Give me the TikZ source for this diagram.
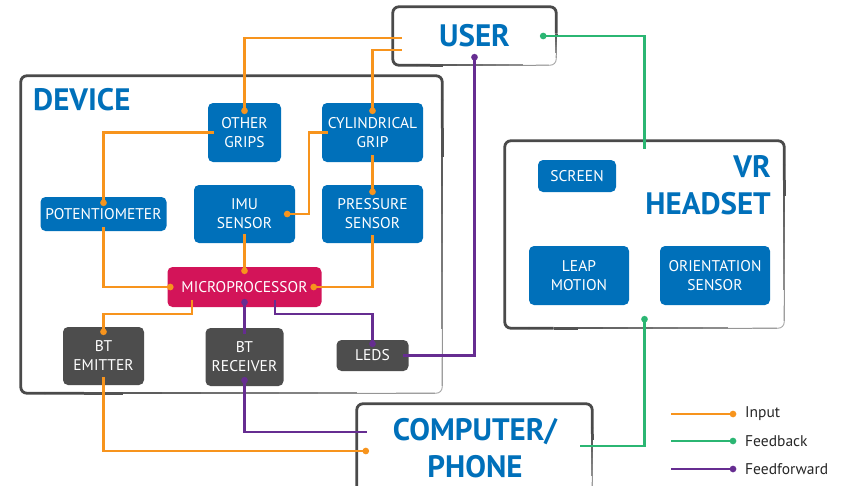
\documentclass[tikz,border=0pt]{standalone}
\usepackage{fontspec}
\setmainfont{PT Sans}
\usetikzlibrary{arrows.meta,calc}
\definecolor{boxblue}{HTML}{0070BA}
\definecolor{boxgray}{HTML}{4D4D4D}
\definecolor{framegray}{HTML}{4A4A4A}
\definecolor{framelight}{HTML}{A8A8A8}
\definecolor{chipred}{HTML}{D31459}
\definecolor{wireorange}{HTML}{F7941D}
\definecolor{wiregreen}{HTML}{2BB673}
\definecolor{wirepurple}{HTML}{662D91}

% hand-brushed outline: heavy on the top and left, thinning and fading
% along the right and bottom edges
\newcommand{\brushframe}[1]{%
  \draw[framelight, line width=0.9pt, rounded corners=6pt]
    (#1.south west) rectangle (#1.north east);
  \draw[framegray, line width=2.8pt, rounded corners=6pt, line cap=round]
    ([xshift=24pt]#1.south west) -- (#1.south west) -- (#1.north west)
    -- (#1.north east) -- ([yshift=-24pt]#1.north east);
  \foreach \i in {0,...,9} {
    \pgfmathsetmacro\sa{\i/10}
    \pgfmathsetmacro\sb{(\i+1)/10}
    \pgfmathsetmacro\lw{2.8-0.19*\i}
    \pgfmathtruncatemacro\mix{100-10*\i}
    \draw[line width=\lw pt, draw=framegray!\mix!framelight]
      ($([yshift=-24pt]#1.north east)!\sa!([yshift=7pt]#1.south east)$) --
      ($([yshift=-24pt]#1.north east)!\sb!([yshift=7pt]#1.south east)$);
    \draw[line width=\lw pt, draw=framegray!\mix!framelight]
      ($([xshift=24pt]#1.south west)!\sa!([xshift=-7pt]#1.south east)$) --
      ($([xshift=24pt]#1.south west)!\sb!([xshift=-7pt]#1.south east)$);
  }%
}

\begin{document}
\begin{tikzpicture}[x=1pt,y=-1pt,
  frame/.style={fill=white, rounded corners=6pt, inner sep=0pt},
  blk/.style={rounded corners=5pt, inner sep=0pt, text=white, align=center,
    font=\fontsize{15.5}{19}\selectfont},
  bluebox/.style={blk, fill=boxblue},
  greybox/.style={blk, fill=boxgray},
  chipbox/.style={blk, fill=chipred},
  title/.style={text=boxblue, inner sep=0pt, font=\bfseries\fontsize{31}{37.5}\selectfont},
  legendtext/.style={inner sep=0pt, anchor=west, text=black!85, font=\fontsize{15.5}{19}\selectfont},
  wire/.style={line width=2.4pt},
  inp/.style={wire, draw=wireorange},
  fbk/.style={wire, draw=wiregreen},
  ffw/.style={wire, draw=wirepurple},
  dotend/.style={-{Circle[length=6.5pt]}, shorten >=-3.25pt},
  dotstart/.style={{Circle[length=6.5pt]}-, shorten <=-3.25pt}
]
\useasboundingbox (0,0) rectangle (845,485);

% outer frames
\node[frame, minimum width=421pt, minimum height=317pt] (device) at (231.5,234.5) {};
\node[frame, minimum width=163pt, minimum height=58pt] (user) at (474.5,36) {};
\node[frame, minimum width=279pt, minimum height=187pt] (vr) at (644.5,234.5) {};
\node[frame, minimum width=235pt, minimum height=91pt] (comp) at (474.5,449.5) {};
\brushframe{device}
\brushframe{user}
\brushframe{vr}
\brushframe{comp}

% frame titles
\node[title, anchor=center] (usert) at (user.center) {USER};
\node[title, anchor=west] (devt) at (33,100) {DEVICE};
\node[title, anchor=east, align=right] (vrt) at (771,185) {VR\\HEADSET};
\node[title, anchor=center, align=center] (compt) at (475,448) {COMPUTER/\\PHONE};

% device blocks
\node[bluebox, minimum width=73pt, minimum height=59pt] (og) at (244.5,132.5) {OTHER\\GRIPS};
\node[bluebox, minimum width=101pt, minimum height=59pt] (cyl) at (372.5,132.5) {CYLINDRICAL\\GRIP};
\node[bluebox, minimum width=126pt, minimum height=34pt] (pot) at (103.5,214) {POTENTIOMETER};
\node[bluebox, minimum width=101pt, minimum height=58pt] (imu) at (244.5,214) {IMU\\SENSOR};
\node[bluebox, minimum width=101pt, minimum height=58pt] (pres) at (372.5,214) {PRESSURE\\SENSOR};
\node[chipbox, minimum width=154pt, minimum height=40pt] (mp) at (244.5,287) {MICROPROCESSOR};
\node[greybox, minimum width=81pt, minimum height=58pt] (bte) at (103.5,356) {BT\\EMITTER};
\node[greybox, minimum width=78pt, minimum height=58pt] (btr) at (244.5,357) {BT\\RECEIVER};
\node[greybox, minimum width=72pt, minimum height=31pt] (leds) at (372.5,355.5) {LEDS};

% headset blocks
\node[bluebox, minimum width=78pt, minimum height=32pt] (screen) at (577,176) {SCREEN};
\node[bluebox, minimum width=100pt, minimum height=59pt] (leap) at (579,275.5) {LEAP\\MOTION};
\node[bluebox, minimum width=110pt, minimum height=59pt] (orient) at (715,275.5) {ORIENTATION\\SENSOR};

% input wires
\draw[inp, dotend] ([shift={(9,2)}]user.west) -| ([yshift=-8pt]og.north);
\draw[inp, dotend] ([shift={(9,14)}]user.west) -| ([yshift=-8pt]cyl.north);
\draw[inp, dotend] ([xshift=6pt]og.west) -| ([yshift=-6pt]pot.north);
\draw[inp, dotend] ([xshift=6pt]cyl.west) -- ++(-19,0) |- ([xshift=-8pt]imu.east);
\draw[inp, dotend] ([yshift=7pt]cyl.south) -- ([yshift=-7pt]pres.north);
\draw[inp, dotend] ([yshift=9pt]imu.south) -- ([yshift=-4pt]mp.north);
\draw[inp, dotend] ([yshift=4pt]pot.south) |- ([xshift=3pt]mp.west);
\draw[inp, dotend] ([yshift=8pt]pres.south) |- ([xshift=-8pt]mp.east);
\draw[inp, dotend] ([shift={(-52.5,13)}]mp.center) -- ++(0,14) -| ([yshift=-5pt]bte.north);
\draw[inp, dotend] ([yshift=8pt]bte.south) |- ([shift={(9,1.5)}]comp.west);

% feedforward wires
\draw[ffw, dotstart] ([yshift=5pt]mp.south) -- ([yshift=-6pt]btr.north);
\draw[ffw, dotend] ([shift={(30.5,13)}]mp.center) -- ++(0,14) -| ([yshift=-4pt]leds.north);
\draw[ffw, dotend] ([xshift=-6pt]leds.east) -| ([yshift=8pt]user.south);
\draw[ffw, dotstart] ([yshift=6pt]btr.south) |- ([shift={(10,-17.5)}]comp.west);

% feedback wires
\draw[fbk, dotstart] ([xshift=-13pt]user.east) -| ([yshift=-8pt]vr.north);
\draw[fbk, dotstart] ([yshift=9pt]vr.south) |- ([shift={(-12,-3.5)}]comp.east);

% legend
\coordinate (lg1) at (671,414);
\coordinate (lg2) at (671,441);
\coordinate (lg3) at (671,469);
\node[legendtext] (lt1) at (745,414) {Input};
\node[legendtext] (lt2) at (745,441) {Feedback};
\node[legendtext] (lt3) at (745,469) {Feedforward};
\draw[inp, dotend] (lg1) -- ([xshift=-12pt]lt1.west);
\draw[fbk, dotend] (lg2) -- ([xshift=-12pt]lt2.west);
\draw[ffw, dotend] (lg3) -- ([xshift=-12pt]lt3.west);
\end{tikzpicture}
\end{document}
